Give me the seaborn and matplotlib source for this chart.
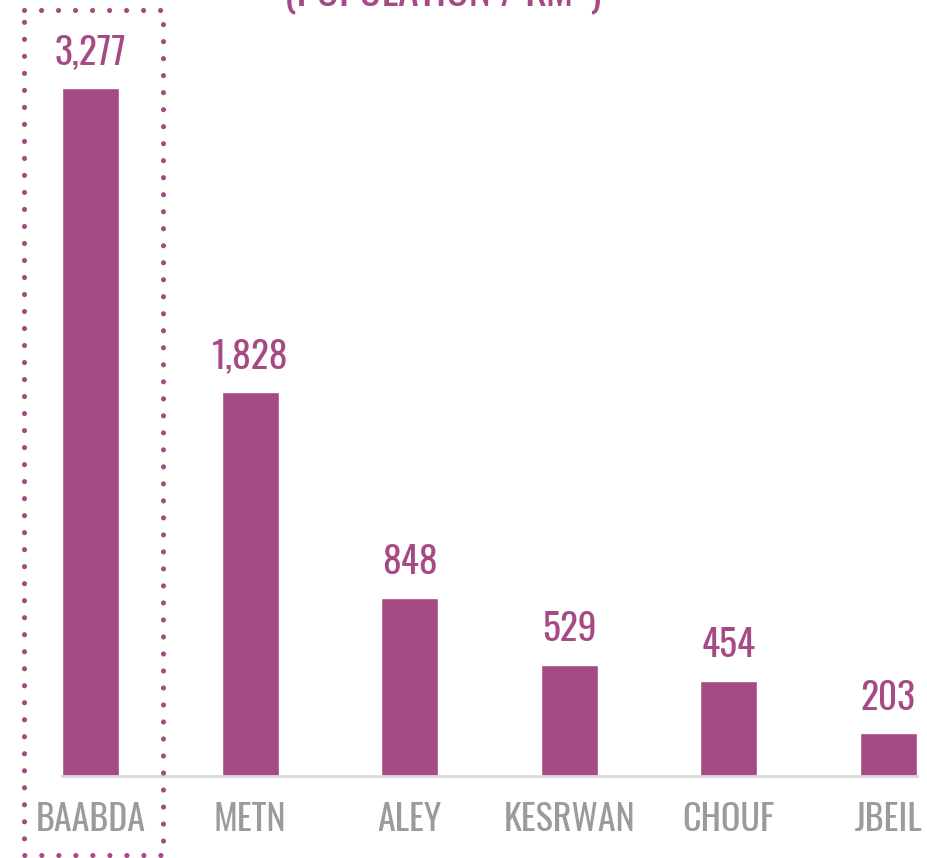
import matplotlib
matplotlib.use('Agg')
import matplotlib.pyplot as plt
from matplotlib.lines import Line2D
import seaborn as sns
import pandas as pd

districts = ['BAABDA', 'METN', 'ALEY', 'KESRWAN', 'CHOUF', 'JBEIL']
density = [3277, 1828, 848, 529, 454, 203]

PURPLE = '#a64a85'
GREY = '#9b9b9b'

sns.set_style('white')
plt.rcParams['font.family'] = ['Oswald', 'Pathway Gothic One', 'DejaVu Sans']

df = pd.DataFrame({'district': districts, 'density': density})

fig = plt.figure(figsize=(9.28, 8.58), dpi=100)
ax = fig.add_axes([62 / 928, 1 - 776 / 858, (917 - 62) / 928, 776 / 858])

sns.barplot(data=df, x='district', y='density', color=PURPLE,
            saturation=1, width=0.36, ax=ax)

ax.set_xlim(-0.18, len(districts) - 1 + 0.18)
ax.set_ylim(0, 3696)
ax.set_xlabel('')
ax.set_ylabel('')
ax.set_yticks([])
sns.despine(ax=ax, left=True)
ax.spines['bottom'].set_color('#d9d9d9')
ax.spines['bottom'].set_linewidth(2)
ax.tick_params(axis='x', length=0, pad=19, labelsize=26, labelcolor=GREY)
for lbl in ax.get_xticklabels():
    lbl.set_fontweight(200)

for i, v in enumerate(density):
    ax.annotate(f'{v:,}', (i, v), xytext=(0, 12), textcoords='offset points',
                ha='center', va='bottom', fontsize=27, color=PURPLE,
                fontweight=500)

# dotted highlight box round the first district
x0, x1 = 24 / 928, 163 / 928
y0, y1 = 1 - 855 / 858, 1 - 10 / 858
box = Line2D([x0, x1, x1, x0, x0], [y1, y1, y0, y0, y1],
             transform=fig.transFigure, color=PURPLE, linewidth=3.7,
             linestyle=(0, (0.01, 3.3)), dash_capstyle='round')
fig.add_artist(box)

fig.text(443 / 928, 1 - 6 / 858, '(POPULATION / KM²)', ha='center',
         va='baseline', fontsize=30, color=PURPLE, fontweight=300)

fig.savefig('out.png', dpi=100)
